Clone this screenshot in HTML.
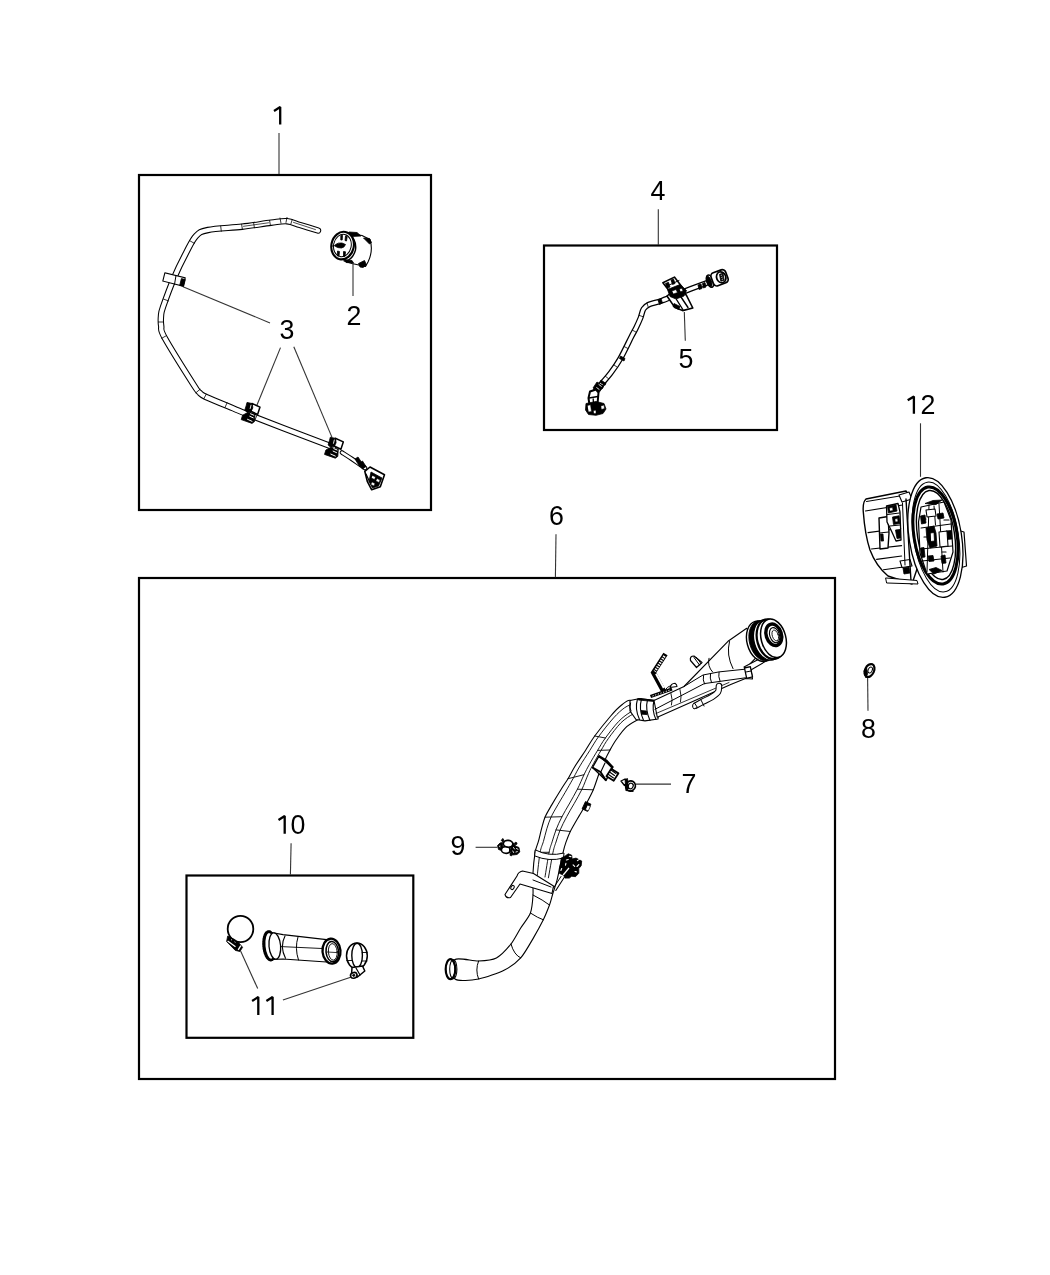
<!DOCTYPE html>
<html>
<head>
<meta charset="utf-8">
<style>
html,body{margin:0;padding:0;background:#fff;}
body{width:1050px;height:1275px;overflow:hidden;}
svg{display:block;filter:grayscale(1);}
text{font-family:"Liberation Sans",sans-serif;font-size:26.8px;fill:#000;}
.box{fill:none;stroke:#000;stroke-width:2.2;}
.ld{stroke:#333;stroke-width:1.1;fill:none;}
.p{fill:#fff;stroke:#000;stroke-linejoin:round;stroke-linecap:round;}
.l{fill:none;stroke:#000;stroke-linejoin:round;stroke-linecap:round;}
.k{fill:#000;stroke:#000;stroke-linejoin:round;}
.g{fill:#000;stroke:none;}
</style>
</head>
<body>
<svg width="1050" height="1275" viewBox="0 0 1050 1275">

<rect class="box" x="139" y="175" width="292" height="335"/>
<rect class="box" x="544" y="245.5" width="233" height="184.5"/>
<rect class="box" x="139" y="578" width="696" height="501"/>
<rect class="box" x="186.5" y="875.5" width="226.8" height="162.3"/>
<g class="ld">
<line x1="279" y1="133" x2="279" y2="174"/>
<line x1="353" y1="264" x2="353" y2="296"/>
<line x1="183" y1="286.7" x2="270" y2="322.9"/>
<line x1="280.5" y1="347.6" x2="256.7" y2="405.7"/>
<line x1="293.8" y1="346.7" x2="331.9" y2="437.1"/>
<line x1="658.3" y1="209.3" x2="658.3" y2="245"/>
<line x1="684.3" y1="311.9" x2="685.3" y2="340.8"/>
<line x1="556" y1="534.2" x2="555.4" y2="577.3"/>
<line x1="635.7" y1="784.1" x2="671" y2="784.1"/>
<line x1="867.6" y1="676.9" x2="868" y2="710.8"/>
<line x1="475.6" y1="847.3" x2="497.4" y2="847.3"/>
<line x1="291.1" y1="843.2" x2="290.4" y2="874.7"/>
<line x1="240.6" y1="950.9" x2="257.7" y2="988.6"/>
<line x1="282.9" y1="1000" x2="351.4" y2="977.1"/>
<line x1="920.5" y1="423.3" x2="920.5" y2="476.8"/>
</g>
<g>
<path d="M274,110.9 L280.2,107.1 L280.2,124.6" fill="none" stroke="#000" stroke-width="2.3" stroke-linejoin="bevel" stroke-linecap="butt"/>
<text x="354" y="325" text-anchor="middle">2</text>
<text x="287" y="339" text-anchor="middle">3</text>
<text x="658" y="200" text-anchor="middle">4</text>
<text x="686" y="368.3" text-anchor="middle">5</text>
<text x="556.5" y="525" text-anchor="middle">6</text>
<text x="689" y="792.9" text-anchor="middle">7</text>
<text x="868.5" y="737.6" text-anchor="middle">8</text>
<text x="458" y="855.4" text-anchor="middle">9</text>
<path d="M278.5,819.9 L284.7,816.1 L284.7,833.8" fill="none" stroke="#000" stroke-width="2.3" stroke-linejoin="bevel" stroke-linecap="butt"/>
<text x="298" y="833.8" text-anchor="middle">0</text>
<path d="M252.1,1000.9 L258.3,997.1 L258.3,1014.9" fill="none" stroke="#000" stroke-width="2.3" stroke-linejoin="bevel" stroke-linecap="butt"/>
<path d="M266.4,1000.9 L272.6,997.1 L272.6,1014.9" fill="none" stroke="#000" stroke-width="2.3" stroke-linejoin="bevel" stroke-linecap="butt"/>
<path d="M907.7,400.2 L913.9,396.4 L913.9,413.8" fill="none" stroke="#000" stroke-width="2.3" stroke-linejoin="bevel" stroke-linecap="butt"/>
<text x="928" y="413.8" text-anchor="middle">2</text>
</g>
<path d="M318,230.5 C315,229.6 305.2,226.6 300,225 C294.8,223.4 291.8,221.6 287,221.2 C282.2,220.8 278.5,221.8 271,222.7 C263.5,223.6 252.5,225.5 242,226.7 C231.5,227.9 215.7,228.4 208,230 C200.3,231.6 199.7,232.2 196,236 C192.3,239.8 189.7,246 186,253 C182.3,260 177.8,269 174,278 C170.2,287 165.2,300.7 163,307 C160.8,313.3 161.3,312.8 161,316 C160.7,319.2 160.6,322.3 161.2,326 C161.8,329.7 159.3,328.1 164.8,338 C170.3,347.9 188.2,376.3 194,385.4 C199.8,394.5 197.4,390.6 199.4,392.5 C201.4,394.4 200.3,394.4 206,397 C211.7,399.6 226.6,405.6 233.4,408.4 C240.2,411.2 238.3,410.6 246.6,413.9 C254.9,417.2 268.6,422.5 283,428 C297.4,433.5 324.7,443.8 333,447" fill="none" stroke="#000" stroke-width="6.40" stroke-linecap="round" stroke-linejoin="round"/><path d="M318,230.5 C315,229.6 305.2,226.6 300,225 C294.8,223.4 291.8,221.6 287,221.2 C282.2,220.8 278.5,221.8 271,222.7 C263.5,223.6 252.5,225.5 242,226.7 C231.5,227.9 215.7,228.4 208,230 C200.3,231.6 199.7,232.2 196,236 C192.3,239.8 189.7,246 186,253 C182.3,260 177.8,269 174,278 C170.2,287 165.2,300.7 163,307 C160.8,313.3 161.3,312.8 161,316 C160.7,319.2 160.6,322.3 161.2,326 C161.8,329.7 159.3,328.1 164.8,338 C170.3,347.9 188.2,376.3 194,385.4 C199.8,394.5 197.4,390.6 199.4,392.5 C201.4,394.4 200.3,394.4 206,397 C211.7,399.6 226.6,405.6 233.4,408.4 C240.2,411.2 238.3,410.6 246.6,413.9 C254.9,417.2 268.6,422.5 283,428 C297.4,433.5 324.7,443.8 333,447" fill="none" stroke="#fff" stroke-width="4.30" stroke-linecap="round" stroke-linejoin="round"/>
<line class="l" x1="280" y1="218" x2="281" y2="223.2" stroke-width="0.8"/>
<line class="l" x1="287" y1="217.4" x2="286" y2="222.4" stroke-width="0.8"/>
<line class="l" x1="292.3" y1="219.4" x2="290.7" y2="224.4" stroke-width="0.8"/>
<line class="l" x1="269.6" y1="220.4" x2="270.4" y2="225.6" stroke-width="0.8"/>
<line class="l" x1="253.6" y1="222.6" x2="254.4" y2="227.8" stroke-width="0.8"/>
<line class="l" x1="241.6" y1="224.2" x2="242.4" y2="229.4" stroke-width="0.8"/>
<line class="l" x1="220.7" y1="226.1" x2="221.3" y2="231.3" stroke-width="0.8"/>
<line class="l" x1="189.7" y1="240.7" x2="194.3" y2="243.3" stroke-width="0.8"/>
<line class="l" x1="163.6" y1="299.1" x2="168.4" y2="300.9" stroke-width="0.8"/>
<line class="l" x1="158.4" y1="322" x2="163.6" y2="322" stroke-width="0.8"/>
<line class="l" x1="161.7" y1="338.3" x2="166.3" y2="335.7" stroke-width="0.8"/>
<line class="l" x1="196" y1="392.7" x2="200" y2="389.3" stroke-width="0.8"/>
<line class="l" x1="203.7" y1="398.8" x2="206.3" y2="394.2" stroke-width="0.8"/>
<line class="l" x1="224.9" y1="407.6" x2="227.1" y2="402.8" stroke-width="0.8"/>
<line class="l" x1="255" y1="419.9" x2="257" y2="415.1" stroke-width="0.8"/>
<path class="l" d="M243.5,226.3 L268.5,222.8 M293.5,222.4 L315.5,229.6" stroke-width="0.7"/>
<rect class="p" stroke-width="1.1" x="163.5" y="275.2" width="21" height="8.5" rx="0" transform="rotate(14 174 279.5)"/>
<rect class="k" stroke-width="0.8" x="180.5" y="279" width="4" height="7" rx="0" transform="rotate(14 182.5 282.5)"/>
<line class="l" stroke-width="1" x1="176" y1="275.5" x2="174.5" y2="284.5"/>
<path class="p" d="M252,403.5 L260,407.1 L257.6,414.4 L250.8,411.2Z" stroke-width="1.5"/>
<path class="k" d="M247,402.4 L252.3,403.6 L252.8,408 L251,411.5 L247.5,412.5 L244.8,410.2 L246.2,405.5Z" stroke-width="0.8"/>
<path class="k" d="M242.6,415.2 L247.6,412.6 L255,414.2 L254.5,421.6 L252,423.4 L241.2,419.6Z" stroke-width="0.8"/>
<path d="M250.5,413.8 L253.8,415.2 M249.8,416.3 L253.2,417.8 M247.5,419.3 L252,421.3" stroke="#fff" stroke-width="1" fill="none" stroke-linecap="round"/>
<path d="M251,405.2 L250.2,408.5" stroke="#fff" stroke-width="0.9" fill="none" stroke-linecap="round"/>
<path class="p" d="M335.3,438.3 L343.3,441.9 L340.9,449.2 L334.1,446Z" stroke-width="1.5"/>
<path class="k" d="M330.3,437.2 L335.6,438.4 L336.1,442.8 L334.3,446.3 L330.8,447.3 L328.1,445 L329.5,440.3Z" stroke-width="0.8"/>
<path class="k" d="M325.9,450 L330.9,447.4 L338.3,449 L337.8,456.4 L335.3,458.2 L324.5,454.4Z" stroke-width="0.8"/>
<path d="M333.8,448.6 L337.1,450 M333.1,451.1 L336.5,452.6 M330.8,454.1 L335.3,456.1" stroke="#fff" stroke-width="1" fill="none" stroke-linecap="round"/>
<path d="M334.3,440 L333.5,443.3" stroke="#fff" stroke-width="0.9" fill="none" stroke-linecap="round"/>
<path d="M342,452.5 C343.7,453.6 348.2,456.4 352,459 C355.8,461.6 362.8,466.5 365,468" fill="none" stroke="#000" stroke-width="4.60" stroke-linecap="round" stroke-linejoin="round"/><path d="M342,452.5 C343.7,453.6 348.2,456.4 352,459 C355.8,461.6 362.8,466.5 365,468" fill="none" stroke="#fff" stroke-width="2.60" stroke-linecap="round" stroke-linejoin="round"/>
<path class="k" stroke-width="0.8" d="M355,459 L358,457 L363,464.5 L360,467Z"/>
<path class="p" d="M364.8,471.4 L370,467 L384.5,474.8 L380.3,486.8 L371.7,489.8 L367.4,481.7Z" stroke-width="1.6"/>
<path class="k" stroke-width="0.8" d="M371,472 L382,478 L378.5,486 L372.5,488 L369,481.5Z"/>
<path class="p" d="M372.5,475.5 L375.5,477 L374.5,479.5 L371.5,478Z M377,478.5 L380,480 L379,482.5 L376,481Z M372,482 L375,483.5 L374,486 L371,484.5Z" stroke-width="0.5"/>
<line class="l" x1="366" y1="474" x2="369.5" y2="481.5" stroke-width="1.2"/>
<path class="k" stroke-width="0.8" d="M359,463.5 L362.5,461 L366,466.5 L362.5,469Z"/>
<path class="p" stroke-width="1.1" d="M346,232.5 L362,235.5 L370,239.5 Q373.5,251 368,262 L365.5,266.5 L352,263.5 L344,261Z"/>
<path class="k" stroke-width="0.8" d="M349,232 L357,232.5 L361,236 L352,236.5Z"/>
<path class="k" stroke-width="0.8" d="M363.5,238 L369.5,238.5 L371.5,242.5 L369.5,244 L366.5,241Z"/>
<path class="k" stroke-width="0.8" d="M344,259.5 L352,260.5 L353.5,263 L346,262.5Z"/>
<path class="k" stroke-width="0.8" d="M358.5,263.5 L364.5,260.5 L366.5,265 L363,267.5 L360,267Z"/>
<path d="M349,233.5 Q357,240 355.5,250 Q353,259 346,261" fill="none" stroke="#000" stroke-width="1.4"/>
<ellipse class="p" cx="342.6" cy="245.6" rx="11.2" ry="13.9" transform="rotate(12 342.6 245.6)" stroke-width="2.1"/>
<ellipse class="l" cx="342.4" cy="245.5" rx="8.8" ry="11.3" transform="rotate(12 342.4 245.5)" stroke-width="1"/>
<path class="k" stroke-width="0.8" d="M335.5,244.5 Q338,242.5 342,243 L345.5,244.5 Q344.5,247.5 341.5,248 Q338,248 335.5,246.5Z"/>
<path class="k" stroke-width="0.8" d="M340.8,235.5 L342.5,235.3 L342.2,240 L340.8,240Z M345.5,236 L347.2,236.5 L346.5,241 L345,240.5Z M337.5,251 L339.5,251.5 L339,256 L337.5,256Z M343.5,251.5 L345.5,251.8 L345,256.3 L343.5,256Z"/>
<line class="l" x1="332.5" y1="246" x2="336" y2="245.5" stroke-width="1.2"/>
<path d="M708,282.5 C704.4,283.8 694.2,287.5 686.6,290.5 C679,293.5 668.6,298.2 662.3,300.5 C656,302.8 652.1,303.1 649,304.5 C645.9,305.9 644.9,306.8 643.5,309 C642.1,311.2 641.8,314.8 640.5,318 C639.2,321.2 637.5,324.9 636,328 C634.5,331.1 634.1,331.4 631.5,336.5 C628.9,341.6 623.7,352.7 620.2,358.8 C616.7,364.9 613.7,369 610.5,373.3 C607.3,377.6 603.5,381.4 600.8,384.7 C598.1,387.9 595.4,391.4 594.3,392.8" fill="none" stroke="#000" stroke-width="5.90" stroke-linecap="round" stroke-linejoin="round"/><path d="M708,282.5 C704.4,283.8 694.2,287.5 686.6,290.5 C679,293.5 668.6,298.2 662.3,300.5 C656,302.8 652.1,303.1 649,304.5 C645.9,305.9 644.9,306.8 643.5,309 C642.1,311.2 641.8,314.8 640.5,318 C639.2,321.2 637.5,324.9 636,328 C634.5,331.1 634.1,331.4 631.5,336.5 C628.9,341.6 623.7,352.7 620.2,358.8 C616.7,364.9 613.7,369 610.5,373.3 C607.3,377.6 603.5,381.4 600.8,384.7 C598.1,387.9 595.4,391.4 594.3,392.8" fill="none" stroke="#fff" stroke-width="3.40" stroke-linecap="round" stroke-linejoin="round"/>
<line class="l" x1="646.9" y1="303" x2="648.1" y2="306.6" stroke-width="0.8"/>
<line class="l" x1="642.8" y1="316.6" x2="639.2" y2="315.4" stroke-width="0.8"/>
<line class="l" x1="635.7" y1="331.9" x2="632.3" y2="330.1" stroke-width="0.8"/>
<line class="l" x1="627.7" y1="348.4" x2="624.3" y2="346.6" stroke-width="0.8"/>
<line class="l" x1="617.1" y1="367.1" x2="613.9" y2="364.9" stroke-width="0.8"/>
<line class="l" x1="608.5" y1="378.7" x2="605.5" y2="376.3" stroke-width="0.8"/>
<path class="k" stroke-width="0.8" d="M620.5,356 L625,358.5 L624,361 L619.5,358.5Z"/>
<path class="k" stroke-width="0.8" d="M598.5,383 L603.5,386.5 L602,389 L597,386Z M601,380 L606,383.5 L604.8,385.5 L600,382.3Z"/>
<path class="k" stroke-width="0.8" d="M658,300 L661,298.5 L662.5,303 L659.5,304.5Z M698,285 L701,284 L702,288.5 L699,289.5Z M702.5,283.5 L705,282.5 L706,287 L703.5,288Z"/>
<ellipse class="p" cx="710" cy="281.2" rx="3.2" ry="6.4" transform="rotate(-20 710 281.2)" stroke-width="1.5"/>
<ellipse class="k" stroke-width="0.8" cx="709.2" cy="281.5" rx="2.2" ry="5.6" transform="rotate(-20 709.2 281.5)"/>
<rect class="p" x="711.8" y="270.9" width="15.5" height="13.8" rx="3.5" transform="rotate(-20 719.5 277.8)" stroke-width="1.7"/>
<ellipse class="p" cx="721.2" cy="277.3" rx="4.6" ry="5.6" transform="rotate(-20 721.2 277.3)" stroke-width="1.7"/>
<path class="k" stroke-width="0.8" d="M719.5,274.3 L723,273.2 L724.2,280.2 L720.8,281.3Z"/>
<path d="M720.7,275.5 L722.2,275 M721.2,277.5 L722.7,277 M721.7,279.5 L723.2,279" stroke="#fff" stroke-width="0.7"/>
<path class="p" d="M662.9,282.7 L674.4,277.1 L683,288.3 L671.4,293.8Z" stroke-width="1.6"/>
<path class="p" d="M667,296 L674.9,307.6 L682.6,310.6 L692.8,308 L686.8,296 L683.4,290.8 L672,292Z" stroke-width="1.6"/>
<path class="k" stroke-width="0.8" d="M667.5,289.5 L680,284.5 L686.5,290.5 L684,296 L676,299 L670,296.5Z"/>
<path class="p" d="M672,291 L676,289.5 L677.5,292.5 L673.5,294Z M679.5,289 L682,288.2 L683,291 L680.5,291.8Z" stroke-width="0.6"/>
<path class="k" stroke-width="0.8" d="M665.5,283.5 L668.5,282.3 L670,287 L667,288.2Z M671,280 L673.5,279 L675,283.5 L672.5,284.5Z"/>
<path class="k" stroke-width="0.8" d="M674,303.5 L680,306.5 L678.5,309.5 L673,306.5Z"/>
<line class="l" x1="681" y1="297" x2="688" y2="307.5" stroke-width="1.4"/>
<line class="l" x1="676.5" y1="299.5" x2="682.8" y2="309.5" stroke-width="1.4"/>
<line class="l" x1="666" y1="286.5" x2="679" y2="280.5" stroke-width="1"/>
<path class="k" stroke-width="0.8" d="M597,382 L603.5,386.5 L599,392.5 L593,388Z"/>
<path d="M598.6,384.3 L601.6,386.6 M596.4,387.4 L599.4,389.6" stroke="#fff" stroke-width="0.9" fill="none"/>
<path class="p" d="M590,391.5 L596,389.5 L598.5,392.5 L597.5,404 L589.5,405 L588.5,398Z" stroke-width="2"/>
<line class="l" x1="589" y1="398" x2="597.8" y2="396.5" stroke-width="1.6"/>
<line class="l" x1="593.2" y1="399" x2="593.5" y2="404.5" stroke-width="1.3"/>
<path class="k" stroke-width="0.8" d="M586,403.5 L596,401.5 L604,403.5 L606,409 L603,413.5 L596,415.3 L588.5,414.5 L585.5,410Z"/>
<path class="p" d="M587.5,405.5 L590.5,404.8 L591.5,411.5 L588.5,412Z M601,406 L604,405 L604.5,408.5 L601.5,409.5Z M593.5,410.5 L596,410.3 L596,413.5 L593.8,413.6Z" stroke-width="0.5"/>
<path class="p" stroke-width="1.1" d="M455,959.5 C458.1,957.1 473.1,961.2 478.6,961 C484.1,960.8 492.1,960.3 496.4,958 C500.7,955.7 507.8,948 511,944 C514.2,940 518.1,932.1 520.7,928 C523.3,923.9 528.8,917.4 530.4,913 C532,908.6 532.7,900.2 533,895 C533.3,889.8 532.6,880 532.9,874.3 C533.2,868.6 534.4,856.7 535.1,852.3 C535.8,847.9 537.5,844.6 538.4,841.4 C539.3,838.2 540.8,831.4 541.7,828.2 C542.6,825 543.7,820.3 545,817.2 C546.3,814.1 549.4,808.9 551.6,805.1 C553.8,801.3 559.3,792.2 561.5,788.7 C563.7,785.2 566.2,781.6 568,778.7 C569.8,775.8 572.4,770.4 574.7,766.7 C577,763 582.6,754.8 585.3,750.7 C588,746.6 591.3,740.6 594.7,736 C598.1,731.4 607.2,720.1 610.7,716 C614.2,711.9 618.6,707.4 621.3,705.3 C624,703.2 627.7,698.8 631,700.5 C634.3,702.2 644.8,715.6 646,718 C647.2,720.4 642.6,717.5 640,718.7 C637.4,719.9 629.9,723.9 626.7,726.7 C623.5,729.5 618.2,736.9 616,740 C613.8,743.1 611.6,747.1 610,750 C608.4,752.9 605.3,759.2 604,762 C602.7,764.8 601.4,767 600,770.7 C598.6,774.4 595.1,785.5 593.3,789.8 C591.5,794.1 588.6,799.4 586.7,802.9 C584.8,806.4 581.2,812.3 579,816.1 C576.8,819.9 572,828 570.3,831.5 C568.6,835 566.9,839.6 565.9,842.4 C564.9,845.2 564.3,847.3 563.1,852.3 C561.9,857.3 558.5,874.2 557.1,879.8 C555.7,885.4 553.7,890.6 552.7,894 C551.7,897.4 550.8,901.6 549.5,905 C548.2,908.4 545.4,915.5 543.3,919.8 C541.2,924.1 536.6,932.5 533.6,937.6 C530.6,942.7 524.6,953.6 520.7,957.9 C516.8,962.2 510.1,967.2 504.5,970 C498.9,972.8 485.2,977.8 478.6,979 C472,980.2 458.1,981.6 455,979 C451.9,976.4 451.9,961.9 455,959.5Z"/>
<path class="l" d="M537.3,875.3 C537.7,871.5 539.1,857.9 540.1,852.3 C541.2,846.7 542.2,845.5 543.4,841.6 C544.5,837.7 545.6,832.9 546.8,828.8 C548.1,824.7 549.3,821 551.1,817 C553,813 555.2,809.4 557.9,804.7 C560.6,800 564.6,793.5 567.2,788.9 C569.9,784.3 571.6,781.1 573.8,777.3 C575.9,773.4 577.3,770.3 580,765.9 C582.6,761.4 586.7,755.4 589.7,750.6 C592.8,745.7 594.6,742.2 598.5,736.7 C602.5,731.3 609.2,722.8 613.6,717.9 C617.9,713.1 621.3,710.1 624.7,707.7 C628,705.3 632.2,704.3 633.7,703.6" stroke-width="0.9"/>
<path class="l" d="M545,877 C545.7,872.9 547.9,858.2 549.1,852.3 C550.3,846.4 551,845.6 552.1,841.9 C553.3,838.2 554.4,834.1 556,829.9 C557.6,825.6 559.8,821 562,816.7 C564.2,812.3 566.6,808.6 569.2,804 C571.7,799.4 574.9,794.1 577.4,789.2 C579.9,784.4 582,778.9 584,774.7 C586,770.6 587.1,768.4 589.4,764.4 C591.6,760.3 595,754.7 597.6,750.4 C600.3,746 601.8,742.8 605.4,738 C608.9,733.2 614.5,725.7 618.7,721.4 C622.9,717 627.4,714 630.6,712 C633.9,710 637.2,709.7 638.5,709.2" stroke-width="0.9"/>
<path class="l" d="M548.4,877.8 C549.2,873.6 551.8,858.3 553,852.3 C554.3,846.3 554.8,845.7 556,842 C557.2,838.4 558.2,834.6 560,830.3 C561.8,826.1 564.4,820.9 566.8,816.5 C569.1,812.1 571.5,808.2 574.1,803.7 C576.6,799.2 579.4,794.4 581.9,789.4 C584.3,784.4 586.5,777.9 588.5,773.6 C590.4,769.3 591.3,767.6 593.5,763.7 C595.6,759.8 598.6,754.4 601.1,750.3 C603.6,746.1 605,743.1 608.3,738.6 C611.6,734 616.8,727 620.9,722.8 C625.1,718.7 630,715.7 633.3,713.9 C636.5,712 639.4,712.1 640.6,711.7" stroke-width="0.9"/>
<line class="l" x1="535.1" y1="852.3" x2="549.1" y2="852.3" stroke-width="0.9"/>
<line class="l" x1="556" y1="829.9" x2="570.3" y2="831.5" stroke-width="0.9"/>
<line class="l" x1="545" y1="817.2" x2="562" y2="816.7" stroke-width="0.9"/>
<line class="l" x1="577.4" y1="789.2" x2="593.3" y2="789.8" stroke-width="0.9"/>
<line class="l" x1="568" y1="778.7" x2="584" y2="774.7" stroke-width="0.9"/>
<line class="l" x1="597.6" y1="750.4" x2="610" y2="750" stroke-width="0.9"/>
<line class="l" x1="594.7" y1="736" x2="605.4" y2="738" stroke-width="0.9"/>
<line class="l" x1="630.6" y1="712" x2="640" y2="718.7" stroke-width="0.9"/>
<path class="l" stroke-width="1" d="M478.6,961 Q475,970 478.6,979"/>
<path class="l" stroke-width="1" d="M511,944 Q514,955 520.7,957.9"/>
<path class="l" stroke-width="1" d="M530.4,913 Q538,918 543.3,919.8"/>
<path class="l" stroke-width="1" d="M533,895 Q543,900 549.5,905"/>
<path class="p" d="M535.5,850 Q549,857 564,853 L563.5,858 Q549,862 535,856Z" stroke-width="1"/>
<ellipse class="p" cx="450.5" cy="969.2" rx="4.8" ry="10" transform="rotate(0 450.5 969.2)" stroke-width="2.2"/>
<ellipse class="l" cx="453.3" cy="969.2" rx="3.6" ry="9.6" transform="rotate(0 453.3 969.2)" stroke-width="1.1"/>
<path class="l" stroke-width="1" d="M452,959.7 Q458,969 452.5,978.8"/>
<path class="p" d="M533.5,873.5 L522.5,871 Q518,872 517,876 L505,894.5 Q506,898.5 510.5,897.5 L520,884 L552,893.5 L553.5,886 Z" stroke-width="1.1"/>
<ellipse class="l" stroke-width="1" cx="512.5" cy="887.5" rx="1.5" ry="2.2" transform="rotate(30 512.5 887.5)"/>
<line class="l" stroke-width="1" x1="533" y1="880" x2="551" y2="887"/>
<path class="k" d="M561.2,858.1 L565.5,855.7 L568.3,853.8 L571.7,855.2 L572.1,859 L576,858.1 L581.7,861 L581.2,865.7 L578.8,868.6 L578.8,873.3 L575.5,876.7 L571.7,876.2 L569.3,878.1 L565,878.1 L563.6,875.2 L559.3,873.3 L559.3,868.6 L560.7,862.9Z" stroke-width="0.8"/>
<path d="M569.3,856.2 l1.6,0.4 M566.4,860 l1.8,-0.6 M577.4,860.6 l2,-1.2 M577,866.5 l1.8,-1.8 M573.1,864.8 l1.6,1.6 M560.9,870.5 l0.8,-2 M565.5,865.2 l0.4,-1.8 M575,871.5 l1.4,0.4" stroke="#fff" stroke-width="1.1" fill="none" stroke-linecap="round"/>
<path d="M569,868 L563.2,875" stroke="#fff" stroke-width="1.2" fill="none"/>
<line class="l" x1="564.5" y1="877" x2="555.8" y2="890.5" stroke-width="1.1"/>
<line class="l" x1="561" y1="876.5" x2="553.5" y2="888" stroke-width="1"/>
<rect class="k" stroke-width="0.8" x="583.5" y="802.5" width="6" height="8" rx="0" transform="rotate(25 586.5 806.5)"/>
<rect class="p" x="586.5" y="805.5" width="3" height="5" rx="0" transform="rotate(25 588 808)" stroke-width="0.6"/>
<path class="p" d="M599,756 L612.5,767.5 L606,780.5 L592.5,767.5Z" stroke-width="1.4"/>
<path d="M598.5,756 L606,760.5 L613,768" fill="none" stroke="#000" stroke-width="2.6" stroke-linejoin="round"/>
<path d="M592.5,767.5 L600.5,772 L606,780.5" fill="none" stroke="#000" stroke-width="2" stroke-linejoin="round"/>
<line class="l" x1="605" y1="763" x2="601" y2="771.5" stroke-width="1.1"/>
<rect class="p" x="608.2" y="770.3" width="8.5" height="9" rx="0" transform="rotate(32 612.5 774.8)" stroke-width="1.8"/>
<path class="l" d="M609.5,772 L614.5,775.5 M608.5,774.5 L613.5,778 M611,770 L616,773.5" stroke-width="1.1"/>
<path class="p" d="M630,700.5 L640,698.5 L655,700.5 L658.5,711 L658,719 L645,720.8 L636,719.5 L630,711Z" stroke-width="1.2"/>
<path class="l" d="M637.5,699 Q634.5,709 639.5,719.5 M641.5,699 Q638.5,709 643.5,720.2 M647.5,699.6 Q645,709.5 650,720.5 M654,700.5 Q651.5,710 656,719.5" stroke-width="1.1"/>
<path class="k" stroke-width="0.8" d="M638,698.5 L655,700.3 L655,701.6 L638.3,700Z"/>
<path class="k" stroke-width="0.8" d="M641,710.5 L646.5,711 L647,714.6 L641.5,714.2Z"/>
<path class="l" d="M630.5,703 Q628.5,707 631,711" stroke-width="1"/>
<path class="p" stroke-width="1.1" d="M654,700.5 L684,686.5 L728,641.3 L746.7,628.3 L765,650 L757,656.6 L750,664 L752.5,679 L745.5,678.5 L730.7,684.5 L693.3,701.3 L657.3,717.3 Z"/>
<path class="l" stroke-width="1" d="M655,709.3 L704.3,683.6 L745.5,677.8"/>
<path class="l" d="M656,713.5 L729,682.5" stroke-width="0.8"/>
<path class="l" stroke-width="1" d="M684,686.5 L703,675 L719,671.9 L745,669.2"/>
<path class="l" stroke-width="1" d="M729.5,641.5 Q726,655 733,668.6"/>
<path class="l" stroke-width="1" d="M709,658.3 Q707,666 712.6,672"/>
<path class="l" d="M703.5,675.5 Q702.5,680 704.5,684 M710.5,673.8 Q709.5,678 711.5,682.6 M719,672.3 Q718,676.5 720,681" stroke-width="1"/>
<path class="l" d="M671,693.5 Q673,700 671.5,705" stroke-width="0.9"/>
<path class="l" d="M680,689.5 Q682,697 680.5,702" stroke-width="0.9"/>
<path class="p" stroke-width="1.1" d="M744,667 L762,657.5 L767,660.5 L750,670.5Z"/>
<rect class="p" x="745.5" y="667.2" width="6" height="10.5" rx="0" transform="rotate(-12 748.5 672.5)" stroke-width="1.3"/>
<line class="l" x1="746" y1="672" x2="751" y2="671" stroke-width="1"/>
<path d="M696,705.5 C697.2,704.8 700.3,702.9 703,701.5 C705.7,700.1 709.5,698.6 712,697 C714.5,695.4 716.8,693.8 718,692 C719.2,690.2 718.8,687 719,686" fill="none" stroke="#000" stroke-width="6.60" stroke-linecap="round" stroke-linejoin="round"/><path d="M696,705.5 C697.2,704.8 700.3,702.9 703,701.5 C705.7,700.1 709.5,698.6 712,697 C714.5,695.4 716.8,693.8 718,692 C719.2,690.2 718.8,687 719,686" fill="none" stroke="#fff" stroke-width="4.50" stroke-linecap="round" stroke-linejoin="round"/>
<line class="l" x1="701" y1="700" x2="704" y2="706" stroke-width="1"/>
<path class="p" d="M694,703 Q691,706 694,709 L697,707.5Z" stroke-width="1"/>
<path d="M665.5,654 L653.5,672.5 L663.5,691" fill="none" stroke="#000" stroke-width="5" stroke-linejoin="miter"/>
<path d="M664.5,656 L654.8,671.5" fill="none" stroke="#fff" stroke-width="2.6" stroke-dasharray="1.4 1.1"/>
<path d="M656,673.8 L663.8,688" fill="none" stroke="#fff" stroke-width="2"/>
<path d="M650.5,696.5 L672,689" fill="none" stroke="#000" stroke-width="3.4"/>
<path d="M652.5,696 L670,690" fill="none" stroke="#fff" stroke-width="1" stroke-dasharray="1.2 1.6"/>
<path class="p" d="M670,687.5 Q671,683.5 675,683.2 Q677,684.5 677,686.5Z" stroke-width="1.1"/>
<path class="l" d="M665,691 Q667,686 671,686" stroke-width="1"/>
<path class="p" d="M696.5,667.5 L690.5,660.5 Q689.5,656 694,656 L702,662.5Z" stroke-width="1.2"/>
<path class="l" d="M694,657.5 L699.5,665 M696.5,657.5 L701,663.5" stroke-width="1"/>
<ellipse class="p" cx="760.5" cy="641.3" rx="13.5" ry="20.6" transform="rotate(-15 760.5 641.3)" stroke-width="1.4"/>
<ellipse class="k" stroke-width="0.8" cx="763" cy="640.8" rx="13.6" ry="20.6" transform="rotate(-15 763 640.8)"/>
<path class="l" d="M759,628 Q756,641 761,655" stroke="#fff" stroke-width="0.8" stroke-dasharray="2 2.5"/>
<ellipse class="p" cx="767.5" cy="640" rx="13.5" ry="20.5" transform="rotate(-15 767.5 640)" stroke-width="1.3"/>
<ellipse class="p" cx="770.5" cy="639.2" rx="13.3" ry="20.3" transform="rotate(-15 770.5 639.2)" stroke-width="2.2"/>
<ellipse class="p" cx="773.5" cy="638.3" rx="12.3" ry="19.7" transform="rotate(-15 773.5 638.3)" stroke-width="1.5"/>
<ellipse class="p" cx="773.8" cy="634.8" rx="7.6" ry="11" transform="rotate(-18 773.8 634.8)" stroke-width="3.4"/>
<ellipse class="l" cx="774.6" cy="635.2" rx="4.8" ry="7.8" transform="rotate(-18 774.6 635.2)" stroke-width="1.1"/>
<ellipse class="l" cx="775.3" cy="635.5" rx="3" ry="5.6" transform="rotate(-18 775.3 635.5)" stroke-width="0.8"/>
<path class="p" d="M906,491 L866,499 Q862.5,502 863.3,512 Q865,535 870,550 Q876,566 888,576 L912,584 L920,560 L912,500Z" stroke-width="1.4"/>
<line class="l" x1="866.5" y1="501.5" x2="903" y2="495.5" stroke-width="1"/>
<line class="l" x1="865.4" y1="511" x2="902.5" y2="505" stroke-width="1.1"/>
<line class="l" x1="868" y1="532.6" x2="900.7" y2="528.3" stroke-width="1.1"/>
<line class="l" x1="871.4" y1="549" x2="901.6" y2="545.6" stroke-width="1.1"/>
<line class="l" x1="876.6" y1="559.4" x2="901.6" y2="556" stroke-width="1.1"/>
<line class="l" x1="883.5" y1="569.7" x2="903.3" y2="567" stroke-width="1.1"/>
<path class="p" d="M879,518 L888,516.5 L889,533 L888,548 L880,549Z" stroke-width="1.4"/>
<line class="l" x1="879.5" y1="533" x2="888.5" y2="532" stroke-width="1.2"/>
<path class="p" d="M886.5,506 L898,503.5 L900,512 L901,540 L896,541 L891,530 L887,522Z" stroke-width="1.3"/>
<path class="k" stroke-width="0.8" d="M887.5,506.5 L896,504.8 L897,511 L888.5,513Z"/>
<path class="k" stroke-width="0.8" d="M892.5,517 L899,515.8 L900,523.5 L893.5,524.5Z"/>
<path class="k" stroke-width="0.8" d="M895.5,530 L900,529.5 L900.5,538 L897,538.5Z"/>
<path class="p" d="M889.5,508 L892.5,507.6 L893,510.5 L890,511Z M895,519 L897.5,518.6 L898,521.6 L895.5,522Z" stroke-width="0.5"/>
<line class="l" x1="887.5" y1="514.5" x2="899.5" y2="513" stroke-width="1"/>
<line class="l" x1="890" y1="526" x2="900" y2="525" stroke-width="1"/>
<path class="k" stroke-width="0.8" d="M880.5,534 L883,534 L883.5,541 L881,541Z"/>
<path class="p" d="M899,495 L909,492 L912,499 L902,502Z" stroke-width="1.1"/>
<path class="p" d="M900,561 L910,559.5 L912,566 L902,567.5Z" stroke-width="1.1"/>
<path class="k" stroke-width="0.8" d="M903,568 L909,567 L910,573 L904,574Z"/>
<line class="l" x1="906" y1="499" x2="911" y2="581" stroke-width="1.4"/>
<line class="l" x1="902.5" y1="503" x2="905" y2="565" stroke-width="1"/>
<path class="p" d="M886,578 L917,580.5 L918,584 L887,583Z" stroke-width="1"/>
<path class="p" d="M957,530 L964,532 L966.5,566 L960,568Z" stroke-width="1.2"/>
<ellipse class="p" cx="935.4" cy="537.5" rx="26.2" ry="60.5" transform="rotate(-9 935.4 537.5)" stroke-width="1.3"/>
<ellipse class="l" cx="936" cy="537" rx="22.5" ry="55.5" transform="rotate(-9 936 537)" stroke-width="1"/>
<ellipse class="p" cx="935.5" cy="535.5" rx="21.5" ry="49" transform="rotate(-9 935.5 535.5)" stroke-width="3"/>
<ellipse class="l" cx="936" cy="535" rx="18.5" ry="45" transform="rotate(-9 936 535)" stroke-width="1.4"/>
<path class="p" d="M921,507 L944,502 L951,520 L953,552 L947,571 L927,574 L920,553 L918.5,522Z" stroke-width="1.2"/>
<path class="k" stroke-width="0.8" d="M926,528 L934,526 L936,533 L937,546 L930,548 L927,540Z"/>
<path class="k" stroke-width="0.8" d="M920.5,516 L925,515 L926,523 L921.5,524Z M946,531 L951.5,530.5 L952,539 L946.5,539.5Z M920.5,548 L924,547.5 L925,557 L921.5,557.5Z"/>
<path class="k" stroke-width="0.8" d="M929,569.5 L936,567.5 L942,570.5 L934,574Z M925,503.5 L933,500.5 L942,500 L936,504.5Z"/>
<path class="k" stroke-width="0.8" d="M937,514 L943,513 L944,518 L938,519Z M928,556 L933,555.5 L934,561 L929,561.5Z M941,556 L945,555 L946,563 L942,563.5Z"/>
<line class="l" x1="921" y1="528" x2="951" y2="524" stroke-width="1"/>
<line class="l" x1="921" y1="549" x2="952" y2="546" stroke-width="1"/>
<line class="l" x1="922" y1="561" x2="950" y2="558" stroke-width="1"/>
<line class="l" x1="939" y1="504" x2="943" y2="572" stroke-width="1"/>
<line class="l" x1="929" y1="505" x2="927" y2="572" stroke-width="1"/>
<line class="l" x1="934" y1="506" x2="935.5" y2="525" stroke-width="1"/>
<path class="p" d="M939,532 L947,531 L948,546 L940,547Z" stroke-width="1.1"/>
<path class="p" d="M926,510 L935,509 L936,516 L927,517Z" stroke-width="1.1"/>
<path class="p" d="M930.5,533 L934,532.5 L934.5,541 L931,541.5Z" stroke-width="0.8"/>
<path class="l" d="M923,519 L926,519 M924,537 L927,537 M942,552 L946,552 M944,520 L949,520" stroke-width="1.2"/>
<ellipse class="p" cx="869.5" cy="670.5" rx="4.5" ry="6.8" transform="rotate(25 869.5 670.5)" stroke-width="2.2"/>
<ellipse class="l" cx="870.2" cy="670" rx="2" ry="3.2" transform="rotate(25 870.2 670)" stroke-width="1"/>
<path class="k" stroke-width="0.8" d="M864,671 L866.5,667 L867.5,674 L866,678Z"/>
<path class="p" d="M621,781 L625,779 L628,782 L624.5,785.5Z" stroke-width="1.3"/>
<ellipse class="p" cx="630.5" cy="786" rx="4.8" ry="5.2" transform="rotate(30 630.5 786)" stroke-width="1.6"/>
<ellipse class="l" cx="630.7" cy="786" rx="2.4" ry="2.8" transform="rotate(30 630.7 786)" stroke-width="1.2"/>
<path class="k" stroke-width="0.8" d="M625,779.5 L627.5,778.5 L628.5,789 L626,791Z"/>
<line class="l" x1="629" y1="790.5" x2="633" y2="791.5" stroke-width="1.2"/>
<path class="k" stroke-width="0.8" d="M497.5,845.5 L500,843 L502.5,842.5 L503,848 L501.5,850.5 L498.5,849.5Z"/>
<path class="p" d="M498.8,846 L500.5,845 L500.2,848 Z" stroke-width="0.5"/>
<path class="k" stroke-width="0.8" d="M501.2,840.5 L502.8,838.4 L504,840.2 L503,842Z"/>
<path class="k" stroke-width="0.8" d="M511.5,844 L514,843.2 L515.5,846 L519,847.5 L519.8,852 L517,854.5 L512.5,855 L510.5,852Z"/>
<path d="M513.5,847.5 l1,1.5 M516.5,848.5 l1.5,0.8 M512.8,851 l0.8,1.5 M516,852 l1.3,-0.4" stroke="#fff" stroke-width="0.9" fill="none" stroke-linecap="round"/>
<ellipse class="p" cx="505.8" cy="850" rx="4.4" ry="3.3" transform="rotate(8 505.8 850)" stroke-width="1.6"/>
<ellipse class="p" cx="508.1" cy="843.8" rx="4.8" ry="3.4" transform="rotate(8 508.1 843.8)" stroke-width="1.7"/>
<ellipse class="k" stroke-width="0.8" cx="515.8" cy="843.5" rx="1.2" ry="1.2" transform="rotate(0 515.8 843.5)"/>
<path class="k" stroke-width="0.8" d="M510,853 L512.3,852.8 L511.8,855.8 L510.2,855.5Z"/>
<line class="l" x1="509.8" y1="847" x2="509.5" y2="852.5" stroke-width="1.2"/>
<ellipse class="l" cx="240.5" cy="929" rx="12.8" ry="13.1" transform="rotate(0 240.5 929)" stroke-width="1.8"/>
<path class="k" stroke-width="0.8" d="M227.7,936 L234.6,939.5 L238.5,942.5 L242.6,947.3 L239.9,951.5 L235.3,950.4 L226.6,941.6Z"/>
<path d="M227.6,941 L235.5,946.8 M240.8,945.6 L238.2,949.8" stroke="#fff" stroke-width="1.3" fill="none"/>
<path d="M231,939.5 l1,0.6 M234.5,941.8 l1,0.6" stroke="#fff" stroke-width="0.8" fill="none"/>
<path class="p" d="M270,932.2 L283,934.6 L326.5,939.6 L326.5,962 L283,959 L270,959.6Z" stroke-width="1.1"/>
<path class="l" stroke-width="1" d="M298,937 Q294.5,948 298.5,960"/>
<path class="l" d="M275,946.3 L324,948.6" stroke-width="0.9"/>
<ellipse class="l" cx="269.6" cy="945.8" rx="6.4" ry="14.8" transform="rotate(-5 269.6 945.8)" stroke-width="1.8" stroke-dasharray="1.4 1"/>
<ellipse class="p" cx="270" cy="945.8" rx="5.6" ry="14" transform="rotate(-5 270 945.8)" stroke-width="2.2"/>
<ellipse class="p" cx="274.8" cy="946" rx="5.8" ry="13.2" transform="rotate(-5 274.8 946)" stroke-width="1.3"/>
<path class="l" d="M285,936 Q279.5,946.5 285.5,958.2" stroke-width="1.1"/>
<ellipse class="p" cx="331.5" cy="951.2" rx="9" ry="12.5" transform="rotate(-5 331.5 951.2)" stroke-width="2.3"/>
<ellipse class="p" cx="332.3" cy="951.6" rx="6.3" ry="10.1" transform="rotate(-5 332.3 951.6)" stroke-width="1.5"/>
<ellipse class="l" cx="332.8" cy="951.9" rx="4.4" ry="8.3" transform="rotate(-5 332.8 951.9)" stroke-width="0.9"/>
<path class="l" d="M327,952 L337.5,952.6" stroke-width="0.8"/>
<ellipse class="l" cx="356.9" cy="955.8" rx="10.4" ry="12.9" transform="rotate(0 356.9 955.8)" stroke-width="1.5"/>
<ellipse class="l" cx="357.1" cy="955.4" rx="5.3" ry="12.1" transform="rotate(0 357.1 955.4)" stroke-width="1.4"/>
<path class="l" d="M346.8,960.5 L351.8,960.5 M362.2,952.5 L367.2,952.5 M362,961 L367,961" stroke-width="0.9"/>
<path class="p" d="M352,967.5 L362.5,966 L364.8,971 L357.5,977 L351.5,975Z" stroke-width="1.5"/>
<line class="l" x1="356" y1="968" x2="360" y2="975" stroke-width="1.2"/>
<ellipse class="p" cx="353.8" cy="975.3" rx="3.3" ry="2.8" transform="rotate(-20 353.8 975.3)" stroke-width="1.6"/>
<ellipse class="k" stroke-width="0.8" cx="353.8" cy="975.3" rx="1.2" ry="1" transform="rotate(-20 353.8 975.3)"/>
</svg>
</body>
</html>
